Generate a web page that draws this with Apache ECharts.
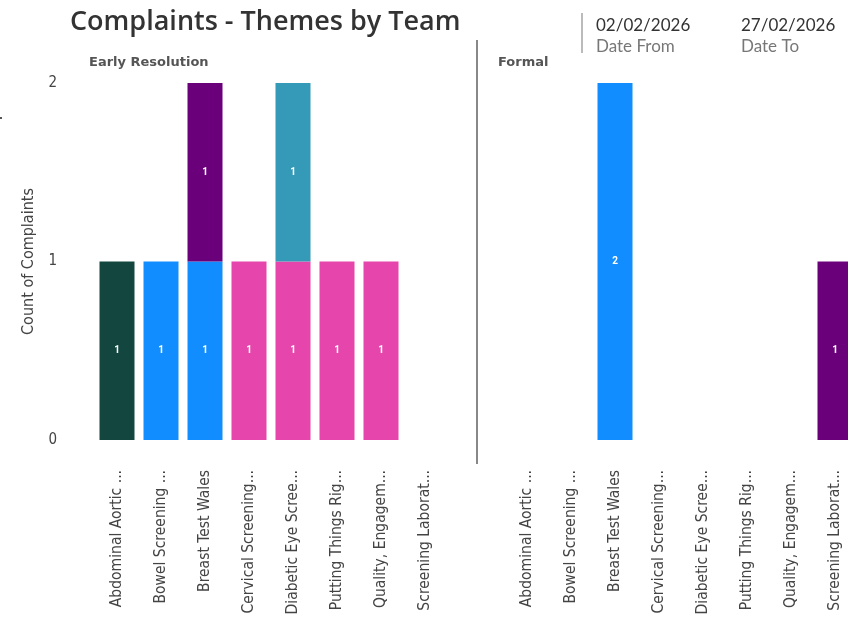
<!DOCTYPE html>
<html><head><meta charset="utf-8">
<script src="https://cdn.jsdelivr.net/npm/echarts@6/dist/echarts.min.js"></script>
<style>html,body{margin:0;padding:0;background:#fff}#c{width:848px;height:617px}</style>
</head><body><div id="c"></div>
<script>
const categories = ["Abdominal Aortic ...","Bowel Screening ...","Breast Test Wales","Cervical Screening...","Diabetic Eye Scree...","Putting Things Rig...","Quality, Engagem...","Screening Laborat..."];
const yTicks = [0,1,2];
// Early Resolution team
const earlyDarkTeal = [1,0,0,0,0,0,0,0];
const earlyBlue     = [0,1,1,0,0,0,0,0];
const earlyPink     = [0,0,0,1,1,1,1,0];
const earlyPurple   = [0,0,1,0,0,0,0,0];
const earlyTeal     = [0,0,0,0,1,0,0,0];
// Formal team
const formalBlue    = [0,0,2,0,0,0,0,0];
const formalPurple  = [0,0,0,0,0,0,0,1];

const colors = {darkTeal:'#12463F', blue:'#118DFF', pink:'#E645AB', purple:'#6B007B', teal:'#3599B8'};
const condensed = "'DejaVu Sans Condensed','Liberation Sans Narrow','Roboto Condensed',Roboto,sans-serif";

function mk(name, data, color, gi){
  return {name, type:'bar', stack:'s'+gi, xAxisIndex:gi, yAxisIndex:gi, data:data.map(v=>v===0?null:v),
    barWidth:35, itemStyle:{color},
    label:{show:true, position:'inside', color:'#fff', fontWeight:'bold', fontSize:10, fontFamily:'Roboto, sans-serif'}};
}
const chart = echarts.init(document.getElementById('c'));
const xAx = (gi)=>({type:'category', gridIndex:gi, data:categories, axisLine:{show:false}, axisTick:{show:false},
  axisLabel:{rotate:90, interval:0, color:'#444', fontSize:15.5, fontFamily:condensed, margin:30}});
const t = (text,left,top,size,weight,color,font)=>({text,left,top,padding:0,textStyle:{fontSize:size,fontWeight:weight,color,fontFamily:font}});
chart.setOption({
  animation:false,
  title:[
    t('Complaints - Themes by Team',70,9,27,600,'#333','"Open Sans", sans-serif'),
    t('Early Resolution',89,56,13,'bold','#555','"DejaVu Sans", sans-serif'),
    t('Formal',498,56,13,'bold','#555','"DejaVu Sans", sans-serif'),
    t('02/02/2026',596,17,17,'normal','#333','Lato, sans-serif'),
    t('Date From',596,38,17,'normal','#777','Lato, sans-serif'),
    t('27/02/2026',741,17,17,'normal','#333','Lato, sans-serif'),
    t('Date To',741,38,17,'normal','#777','Lato, sans-serif')
  ],
  graphic:[
    {type:'line', shape:{x1:477,y1:40,x2:477,y2:464}, style:{stroke:'#888', lineWidth:2}},
    {type:'line', shape:{x1:582,y1:13,x2:582,y2:53}, style:{stroke:'#bbb', lineWidth:2}},
    {type:'rect', shape:{x:0,y:117,width:2,height:2}, style:{fill:'#555'}}
  ],
  grid:[
    {left:95, width:352, top:83, bottom:177, outerBoundsMode:'none', containLabel:false},
    {left:505, width:352, top:83, bottom:177, outerBoundsMode:'none', containLabel:false}
  ],
  xAxis:[xAx(0), xAx(1)],
  yAxis:[
    {type:'value', gridIndex:0, min:yTicks[0], max:yTicks[yTicks.length-1], interval:1, splitLine:{show:false},
     axisLabel:{color:'#444', fontSize:15, margin:38, fontFamily:condensed},
     name:'Count of Complaints', nameLocation:'middle', nameGap:58, nameRotate:90,
     nameTextStyle:{color:'#444', fontSize:16, fontFamily:condensed}},
    {type:'value', gridIndex:1, min:0, max:2, interval:1, show:false, splitLine:{show:false}}
  ],
  series:[
    mk('Abdominal Aortic', earlyDarkTeal, colors.darkTeal, 0),
    mk('Bowel/Breast', earlyBlue, colors.blue, 0),
    mk('Pink theme', earlyPink, colors.pink, 0),
    mk('Purple theme', earlyPurple, colors.purple, 0),
    mk('Teal theme', earlyTeal, colors.teal, 0),
    mk('Bowel/Breast', formalBlue, colors.blue, 1),
    mk('Purple theme', formalPurple, colors.purple, 1)
  ]
});
</script></body></html>
